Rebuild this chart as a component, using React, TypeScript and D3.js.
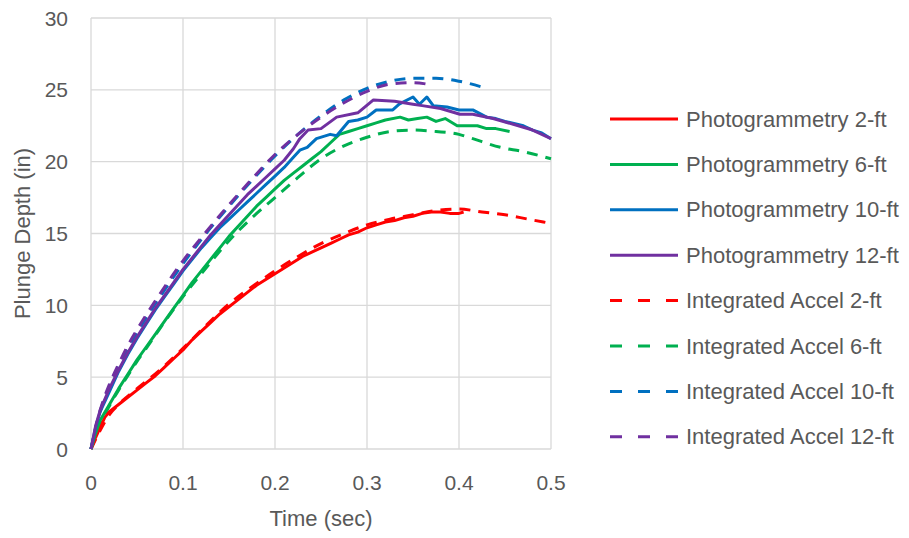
import React from "react";
import * as d3 from "d3";

type Pt = [number, number];

// Time (sec) vs plunge depth (in)
const photo2ft: Pt[] = [
  [0, 0], [0.005, 0.8], [0.01, 1.5], [0.015, 2.2], [0.02, 2.6], [0.03, 3.1], [0.04, 3.6],
  [0.05, 4.1], [0.06, 4.6], [0.07, 5.1], [0.08, 5.7], [0.09, 6.3], [0.1, 6.9], [0.11, 7.6],
  [0.12, 8.2], [0.13, 8.8], [0.14, 9.4], [0.15, 9.9], [0.16, 10.4], [0.17, 10.9], [0.18, 11.4],
  [0.19, 11.8], [0.2, 12.2], [0.21, 12.6], [0.22, 13.0], [0.23, 13.4], [0.24, 13.7], [0.25, 14.0],
  [0.26, 14.3], [0.27, 14.6], [0.28, 14.9], [0.29, 15.1], [0.3, 15.4], [0.31, 15.6], [0.32, 15.8],
  [0.33, 15.9], [0.34, 16.1], [0.35, 16.2], [0.36, 16.4], [0.37, 16.5], [0.38, 16.5], [0.39, 16.4],
  [0.4, 16.4], [0.405, 16.5],
];

const photo6ft: Pt[] = [
  [0, 0], [0.005, 1.1], [0.01, 2.0], [0.02, 3.1], [0.03, 4.2], [0.04, 5.2], [0.05, 6.2],
  [0.06, 7.1], [0.07, 8.0], [0.08, 8.9], [0.09, 9.8], [0.1, 10.7], [0.11, 11.6], [0.12, 12.4],
  [0.13, 13.2], [0.14, 14.0], [0.15, 14.8], [0.16, 15.5], [0.17, 16.2], [0.18, 16.9], [0.19, 17.5],
  [0.2, 18.1], [0.21, 18.7], [0.22, 19.2], [0.23, 19.7], [0.24, 20.2], [0.25, 20.7], [0.26, 21.3],
  [0.27, 21.9], [0.28, 22.1], [0.29, 22.3], [0.3, 22.5], [0.31, 22.7], [0.32, 22.9], [0.336, 23.1],
  [0.345, 22.9], [0.355, 23.0], [0.365, 23.1], [0.375, 22.8], [0.385, 23.0], [0.398, 22.5],
  [0.41, 22.5], [0.42, 22.5], [0.43, 22.3], [0.44, 22.3], [0.455, 22.1],
];

const photo10ft: Pt[] = [
  [0, 0], [0.005, 1.5], [0.01, 2.6], [0.02, 4.0], [0.03, 5.4], [0.04, 6.6], [0.05, 7.7],
  [0.06, 8.7], [0.07, 9.7], [0.08, 10.6], [0.09, 11.5], [0.1, 12.4], [0.11, 13.2], [0.12, 14.0],
  [0.13, 14.7], [0.14, 15.4], [0.15, 16.0], [0.16, 16.6], [0.17, 17.2], [0.18, 17.8], [0.19, 18.4],
  [0.2, 19.0], [0.21, 19.6], [0.22, 20.3], [0.227, 20.8], [0.235, 21.0], [0.245, 21.6],
  [0.26, 21.9], [0.267, 21.8], [0.28, 22.8], [0.29, 22.9], [0.3, 23.1], [0.31, 23.6], [0.328, 23.6],
  [0.335, 24.0], [0.35, 24.5], [0.357, 24.0], [0.365, 24.5], [0.372, 23.9], [0.387, 23.8],
  [0.4, 23.6], [0.415, 23.6], [0.43, 23.1], [0.44, 23.0], [0.45, 22.8], [0.47, 22.5],
  [0.48, 22.2], [0.49, 22.0], [0.5, 21.6],
];

const photo12ft: Pt[] = [
  [0, 0], [0.005, 1.6], [0.01, 2.7], [0.02, 4.2], [0.03, 5.5], [0.04, 6.7], [0.05, 7.8],
  [0.06, 8.8], [0.07, 9.8], [0.08, 10.7], [0.09, 11.6], [0.1, 12.5], [0.11, 13.3], [0.12, 14.1],
  [0.13, 14.9], [0.14, 15.6], [0.15, 16.3], [0.16, 17.0], [0.17, 17.7], [0.18, 18.3], [0.19, 18.9],
  [0.2, 19.5], [0.21, 20.1], [0.22, 20.9], [0.227, 21.6], [0.236, 22.2], [0.25, 22.3],
  [0.267, 23.1], [0.29, 23.4], [0.307, 24.3], [0.33, 24.2], [0.35, 24.0], [0.36, 23.9],
  [0.38, 23.7], [0.401, 23.3], [0.415, 23.3], [0.437, 23.0], [0.459, 22.6], [0.48, 22.2],
  [0.5, 21.6],
];

const accel2ft: Pt[] = [
  [0, 0], [0.01, 1.3], [0.02, 2.4], [0.03, 3.1], [0.05, 4.2], [0.075, 5.5], [0.1, 7.0],
  [0.125, 8.6], [0.15, 10.1], [0.175, 11.3], [0.2, 12.4], [0.225, 13.4], [0.25, 14.3],
  [0.275, 15.0], [0.3, 15.6], [0.325, 16.0], [0.35, 16.3], [0.375, 16.6], [0.4, 16.7],
  [0.425, 16.5], [0.45, 16.3], [0.475, 16.0], [0.5, 15.7],
];

const accel6ft: Pt[] = [
  [0, 0], [0.01, 1.8], [0.02, 3.0], [0.03, 4.1], [0.04, 5.1], [0.05, 6.1], [0.06, 7.0],
  [0.075, 8.4], [0.1, 10.6], [0.125, 12.6], [0.15, 14.5], [0.175, 16.1], [0.2, 17.5],
  [0.225, 18.9], [0.25, 20.2], [0.275, 21.1], [0.3, 21.7], [0.325, 22.1], [0.35, 22.2],
  [0.375, 22.1], [0.4, 21.9], [0.415, 21.6], [0.445, 21.0], [0.47, 20.7], [0.5, 20.2],
];

const accel10ft: Pt[] = [
  [0, 0], [0.01, 2.6], [0.02, 4.3], [0.03, 5.7], [0.04, 7.0], [0.05, 8.1], [0.075, 10.6],
  [0.1, 12.9], [0.125, 15.0], [0.15, 16.9], [0.175, 18.7], [0.2, 20.4], [0.225, 21.9],
  [0.25, 23.2], [0.275, 24.3], [0.3, 25.1], [0.325, 25.6], [0.35, 25.8], [0.375, 25.8],
  [0.4, 25.6], [0.43, 25.1],
];

const accel12ft: Pt[] = [
  [0, 0], [0.01, 2.7], [0.02, 4.5], [0.03, 5.9], [0.04, 7.2], [0.05, 8.3], [0.075, 10.8],
  [0.1, 13.1], [0.125, 15.1], [0.15, 17.0], [0.175, 18.8], [0.2, 20.5], [0.225, 21.9],
  [0.25, 23.1], [0.275, 24.1], [0.3, 24.9], [0.325, 25.4], [0.35, 25.5], [0.365, 25.4],
];

const seriesNames = [
  "Photogrammetry 2-ft",
  "Photogrammetry 6-ft",
  "Photogrammetry 10-ft",
  "Photogrammetry 12-ft",
  "Integrated Accel 2-ft",
  "Integrated Accel 6-ft",
  "Integrated Accel 10-ft",
  "Integrated Accel 12-ft",
];
const seriesData = [photo2ft, photo6ft, photo10ft, photo12ft, accel2ft, accel6ft, accel10ft, accel12ft];
const seriesColors = ["#FF0000", "#00B050", "#0070C0", "#7030A0", "#FF0000", "#00B050", "#0070C0", "#7030A0"];
const seriesDashed = [false, false, false, false, true, true, true, true];

const xTicks = [0, 0.1, 0.2, 0.3, 0.4, 0.5];
const yTicks = [0, 5, 10, 15, 20, 25, 30];

const W = 909;
const H = 538;
const plot = { left: 91, right: 551, top: 18, bottom: 449 };
const FONT = "'Liberation Sans', Arial, sans-serif";
const TEXT = "#595959";
const GRID = "#d9d9d9";

export default function App() {
  const x = d3.scaleLinear().domain([0, 0.5]).range([plot.left, plot.right]);
  const y = d3.scaleLinear().domain([0, 30]).range([plot.bottom, plot.top]);

  const solidLine = d3
    .line<Pt>()
    .x((d) => x(d[0]))
    .y((d) => y(d[1]))
    .curve(d3.curveLinear);
  const smoothLine = d3
    .line<Pt>()
    .x((d) => x(d[0]))
    .y((d) => y(d[1]))
    .curve(d3.curveMonotoneX);

  const legendX0 = 610;
  const legendX1 = 678;
  const legendY0 = 119;
  const legendStep = 45.4;

  // draw order: dashed first so the solid traces sit over them
  const order = [4, 5, 6, 7, 0, 1, 2, 3];

  return (
    <svg
      width={W}
      height={H}
      style={{ position: "absolute", left: 0, top: 0, background: "#fff" }}
      fontFamily={FONT}
    >
      <rect x={0} y={0} width={W} height={H} fill="#fff" />
      {/* gridlines */}
      {yTicks.map((t) => (
        <line key={"gy" + t} x1={plot.left} x2={plot.right} y1={y(t)} y2={y(t)} stroke={GRID} strokeWidth={1.3} />
      ))}
      {xTicks.map((t) => (
        <line key={"gx" + t} x1={x(t)} x2={x(t)} y1={plot.top} y2={plot.bottom} stroke={GRID} strokeWidth={1.3} />
      ))}

      {/* tick labels */}
      {yTicks.map((t) => (
        <text key={"ty" + t} x={68} y={y(t)} textAnchor="end" dominantBaseline="central" fontSize={21} fill={TEXT}>
          {t}
        </text>
      ))}
      {xTicks.map((t) => (
        <text key={"tx" + t} x={x(t)} y={482} textAnchor="middle" dominantBaseline="central" fontSize={21} fill={TEXT}>
          {d3.format("~g")(t)}
        </text>
      ))}

      {/* axis titles */}
      <text x={(plot.left + plot.right) / 2} y={518} textAnchor="middle" dominantBaseline="central" fontSize={22} fill={TEXT}>
        Time (sec)
      </text>
      <text
        transform={`translate(22, ${(plot.top + plot.bottom) / 2}) rotate(-90)`}
        textAnchor="middle"
        dominantBaseline="central"
        fontSize={22}
        fill={TEXT}
      >
        Plunge Depth (in)
      </text>

      {/* series */}
      {order.map((i) => (
        <path
          key={"s" + i}
          d={(seriesDashed[i] ? smoothLine : solidLine)(seriesData[i]) || ""}
          fill="none"
          stroke={seriesColors[i]}
          strokeWidth={3}
          strokeDasharray={seriesDashed[i] ? "11,8" : undefined}
          strokeLinejoin="round"
        />
      ))}

      {/* legend */}
      {seriesNames.map((name, i) => {
        const ly = legendY0 + i * legendStep;
        return (
          <g key={"lg" + i}>
            <line
              x1={legendX0}
              x2={legendX1}
              y1={ly}
              y2={ly}
              stroke={seriesColors[i]}
              strokeWidth={3}
              strokeDasharray={seriesDashed[i] ? "12,16" : undefined}
            />
            <text x={686} y={ly} dominantBaseline="central" fontSize={22} fill={TEXT}>
              {name}
            </text>
          </g>
        );
      })}
    </svg>
  );
}
